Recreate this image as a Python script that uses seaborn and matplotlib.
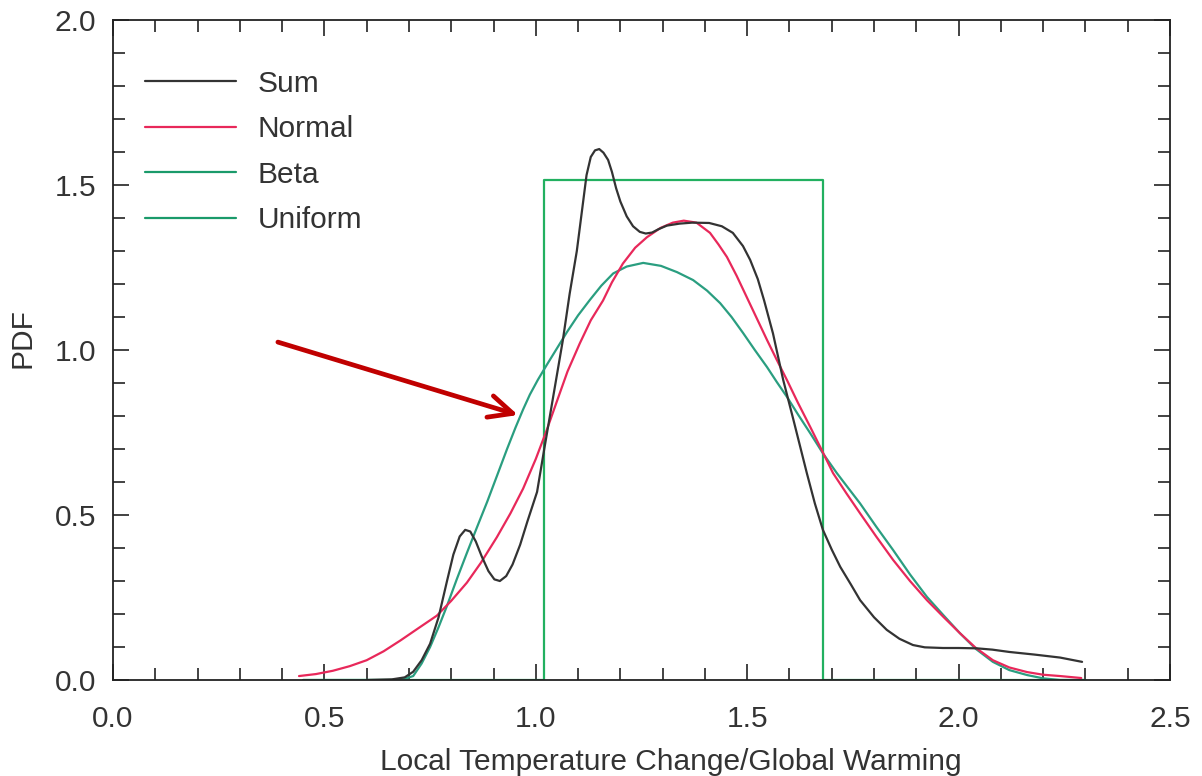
import numpy as np
import pandas as pd
import matplotlib
matplotlib.use("Agg")
import matplotlib.pyplot as plt
from matplotlib.ticker import MultipleLocator, FormatStrFormatter
import seaborn as sns

##########################
### values

sum_x = [0.60, 0.66, 0.69, 0.71, 0.73, 0.75, 0.77, 0.79, 0.805, 0.82, 0.833, 0.845,
         0.858, 0.872, 0.888, 0.902, 0.915, 0.93, 0.945, 0.963, 0.98, 1.003, 1.02,
         1.04, 1.064, 1.08, 1.097, 1.11, 1.12, 1.13, 1.14, 1.15, 1.16, 1.171, 1.18,
         1.19, 1.20, 1.215, 1.23, 1.246, 1.26, 1.275, 1.29, 1.31, 1.34, 1.37, 1.41,
         1.44, 1.466, 1.49, 1.507, 1.525, 1.54, 1.561, 1.585, 1.609, 1.641, 1.66,
         1.679, 1.70, 1.72, 1.745, 1.767, 1.80, 1.83, 1.86, 1.892, 1.92, 1.963, 2.00,
         2.043, 2.08, 2.12, 2.18, 2.24, 2.292]
sum_y = [0.0, 0.002, 0.008, 0.025, 0.06, 0.11, 0.19, 0.30, 0.38, 0.435, 0.455, 0.45,
         0.42, 0.375, 0.33, 0.305, 0.30, 0.315, 0.35, 0.41, 0.48, 0.57, 0.70,
         0.85, 1.03, 1.17, 1.30, 1.43, 1.53, 1.585, 1.605, 1.609, 1.598, 1.576, 1.54,
         1.49, 1.45, 1.405, 1.375, 1.358, 1.353, 1.356, 1.366, 1.377, 1.383, 1.386, 1.385,
         1.375, 1.355, 1.315, 1.273, 1.215, 1.15, 1.05, 0.91, 0.79, 0.627, 0.535,
         0.455, 0.395, 0.343, 0.29, 0.242, 0.19, 0.152, 0.125, 0.106, 0.099, 0.097, 0.097,
         0.096, 0.092, 0.085, 0.077, 0.068, 0.055]

normal_x = [0.44, 0.48, 0.52, 0.56, 0.60, 0.64, 0.68, 0.72, 0.766, 0.80, 0.837, 0.87,
            0.908, 0.94, 0.970, 1.00, 1.026, 1.05, 1.075, 1.104, 1.13, 1.159, 1.18,
            1.206, 1.235, 1.263, 1.295, 1.324, 1.35, 1.38, 1.412, 1.432, 1.452, 1.475,
            1.499, 1.523, 1.547, 1.57, 1.594, 1.62, 1.649, 1.675, 1.703, 1.735, 1.767,
            1.805, 1.845, 1.885, 1.925, 1.965, 2.003, 2.04, 2.081, 2.12, 2.162, 2.20,
            2.24, 2.29]
normal_y = [0.012, 0.018, 0.028, 0.042, 0.06, 0.087, 0.12, 0.155, 0.195, 0.24, 0.295, 0.355,
            0.433, 0.505, 0.58, 0.67, 0.758, 0.845, 0.935, 1.02, 1.09, 1.15, 1.205,
            1.262, 1.31, 1.342, 1.37, 1.386, 1.392, 1.386, 1.355, 1.32, 1.282, 1.225,
            1.16, 1.095, 1.03, 0.97, 0.909, 0.84, 0.767, 0.70, 0.627, 0.565, 0.505,
            0.435, 0.364, 0.30, 0.242, 0.19, 0.142, 0.098, 0.06, 0.038, 0.024, 0.016,
            0.012, 0.006]

beta_x = [0.45, 0.66, 0.69, 0.71, 0.73, 0.75, 0.77, 0.79, 0.813, 0.837, 0.86, 0.885,
          0.91, 0.932, 0.952, 0.970, 0.986, 1.005, 1.026, 1.05, 1.074, 1.10, 1.128,
          1.155, 1.183, 1.215, 1.254, 1.296, 1.334, 1.372, 1.405, 1.436, 1.463, 1.49,
          1.518, 1.547, 1.57, 1.594, 1.62, 1.649, 1.68, 1.712, 1.74, 1.767, 1.805,
          1.845, 1.885, 1.925, 1.965, 2.003, 2.04, 2.081, 2.12, 2.162, 2.20, 2.24, 2.30]
beta_y = [0.0, 0.0, 0.004, 0.012, 0.05, 0.10, 0.16, 0.225, 0.305, 0.385, 0.46, 0.54,
          0.625, 0.70, 0.765, 0.82, 0.865, 0.91, 0.955, 1.005, 1.055, 1.105, 1.152,
          1.195, 1.232, 1.253, 1.264, 1.255, 1.236, 1.212, 1.18, 1.142, 1.10, 1.052,
          1.0, 0.948, 0.903, 0.858, 0.805, 0.748, 0.685, 0.627, 0.58, 0.535, 0.465,
          0.394, 0.32, 0.252, 0.195, 0.142, 0.095, 0.055, 0.03, 0.015, 0.005, 0.0, 0.0]

uniform_x = [0.45, 1.02, 1.02, 1.68, 1.68, 2.30]
uniform_y = [0.0, 0.0, 1.515, 1.515, 0.0, 0.0]

arrow_from = (0.39, 1.024)
arrow_to = (0.958, 0.803)

##########################
### style
sns.set_style("ticks")
plt.rcParams['font.family'] = ['Liberation Sans', 'DejaVu Sans']
plt.rcParams['text.color'] = '#333333'
plt.rcParams['axes.labelcolor'] = '#333333'

fs = 21.5

fig = plt.figure(figsize=(12.02, 7.76), dpi=100)
ax = fig.add_axes([0.094, 0.1237, 0.8794, 0.8505])

sns.lineplot(x=uniform_x, y=uniform_y, color='#22b060', lw=1.6, ax=ax,
             estimator=None, sort=False, label='Uniform')
sns.lineplot(x=beta_x, y=beta_y, color='#2a9e80', lw=1.6, ax=ax,
             estimator=None, sort=False, label='Beta')
sns.lineplot(x=normal_x, y=normal_y, color='#e8285a', lw=1.6, ax=ax,
             estimator=None, sort=False, label='Normal')
sns.lineplot(x=sum_x, y=sum_y, color='#333333', lw=1.6, ax=ax,
             estimator=None, sort=False, label='Sum')

ax.annotate('', xy=arrow_to, xytext=arrow_from,
            arrowprops=dict(arrowstyle='->,head_length=0.85,head_width=0.4',
                            color='#c00000', lw=3.4, mutation_scale=20,
                            shrinkA=0, shrinkB=0))

ax.set_xlim(0, 2.5)
ax.set_ylim(0, 2.0)
ax.xaxis.set_major_locator(MultipleLocator(0.5))
ax.xaxis.set_minor_locator(MultipleLocator(0.1))
ax.yaxis.set_major_locator(MultipleLocator(0.5))
ax.yaxis.set_minor_locator(MultipleLocator(0.1))
ax.xaxis.set_major_formatter(FormatStrFormatter('%.1f'))
ax.yaxis.set_major_formatter(FormatStrFormatter('%.1f'))

ax.tick_params(which='both', direction='in', top=True, right=True, color='#222222', width=1.2)
ax.tick_params(which='major', length=11.5, labelsize=fs, labelcolor='#333333')
ax.tick_params(which='minor', length=8.5)
ax.tick_params(axis='x', which='major', pad=18)
ax.tick_params(axis='y', which='major', pad=12)
for s in ax.spines.values():
    s.set_color('#222222')
    s.set_linewidth(1.3)

ax.set_xlabel('Local Temperature Change/Global Warming', fontsize=fs)
ax.xaxis.set_label_coords(0.528, -0.103)
ax.set_ylabel('PDF', fontsize=fs)
ax.yaxis.set_label_coords(-0.072, 0.518)

handles, labels = ax.get_legend_handles_labels()
order = [3, 2, 1, 0]
leg = ax.legend([handles[i] for i in order], [labels[i] for i in order],
                loc='upper left', bbox_to_anchor=(0.030, 0.9245), frameon=False,
                fontsize=fs, handlelength=3.07, handletextpad=0.7, labelspacing=0.585,
                borderpad=0, borderaxespad=0)
leg_colors = ['#333333', '#e8285a', '#1a9a6a', '#1a9a6a']
for line, c in zip(leg.get_lines(), leg_colors):
    line.set_color(c)

fig.savefig('out.png', dpi=100)
